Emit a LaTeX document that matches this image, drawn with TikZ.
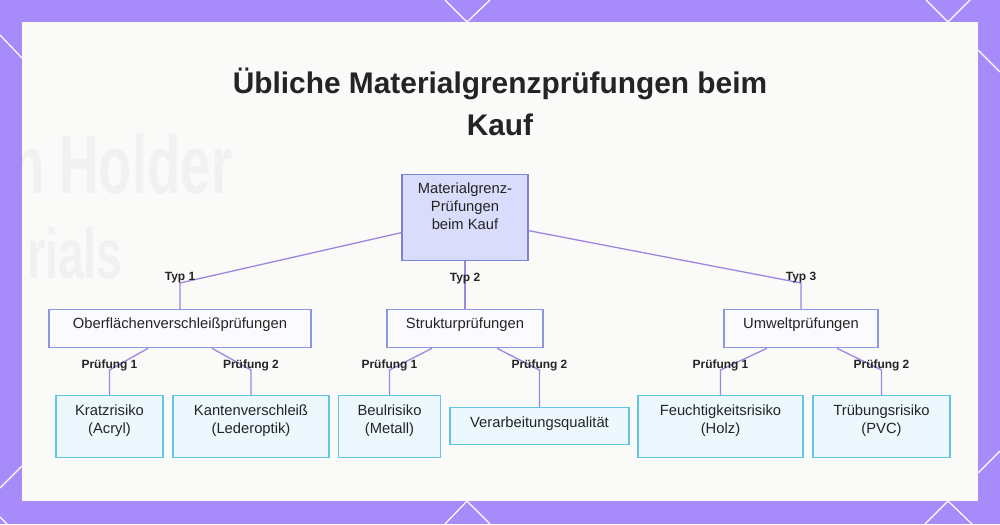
\documentclass[tikz,border=0pt]{standalone}
\usepackage{fontspec}
\setmainfont{Liberation Sans}
\usetikzlibrary{positioning}
\definecolor{frame}{RGB}{167,139,250}
\definecolor{panel}{RGB}{250,250,249}
\definecolor{ghost}{RGB}{241,241,241}
\definecolor{rootfill}{RGB}{217,220,250}
\definecolor{rootline}{RGB}{122,132,214}
\definecolor{catline}{RGB}{140,150,226}
\definecolor{catfill}{RGB}{251,251,255}
\definecolor{leafline}{RGB}{98,198,226}
\definecolor{leaffill}{RGB}{236,248,253}
\definecolor{link}{RGB}{160,132,226}
\definecolor{ink}{RGB}{36,36,36}
\newdimen\pxu \pxu=0.02cm
\tikzset{
  box/.style={draw, line width=1.3\pxu, inner xsep=2\pxu, inner ysep=0pt, align=center,
    anchor=north, text=ink, font=\fontsize{8.4}{10.2}\selectfont},
  rootbox/.style={box, draw=rootline, fill=rootfill, text height=55\pxu, text depth=31\pxu},
  catbox/.style={box, draw=catline, fill=catfill, text height=19\pxu, text depth=19\pxu},
  leafbox/.style={box, draw=leafline, fill=leaffill, text height=38\pxu, text depth=24\pxu},
  flatleaf/.style={box, draw=leafline, fill=leaffill, text height=20\pxu, text depth=17\pxu},
  conn/.style={draw=link, line width=1.3\pxu},
  tag/.style={font=\bfseries\fontsize{6.8}{8}\selectfont, text=ink, inner sep=0pt, yshift=5\pxu},
  deco/.style={draw=white, line width=1.2\pxu}
}
\begin{document}
\begin{tikzpicture}[x=0.02cm, y=-0.02cm]
  \useasboundingbox (0,0) rectangle (1000,524);
  % frame and panel
  \fill[frame] (0,0) rectangle (1000,524);
  \fill[panel] (22,22) rectangle (978,501);
  \draw[deco] (445,0) -- (467,22) -- (490,0);
  \draw[deco] (926,0) -- (948,22) -- (970,0);
  \draw[deco] (445,524) -- (467,501) -- (490,524);
  \draw[deco] (925,524) -- (948,501) -- (972,524);
  \draw[deco] (0,35) -- (22,58);
  \draw[deco] (0,488) -- (22,466);
  \draw[deco] (0,517) -- (7,524);
  \draw[deco] (978,50) -- (1000,72);
  \draw[deco] (978,473) -- (1000,451);

  % faded photo text
  \begin{scope}
    \clip (22,22) rectangle (978,501);
    \node[anchor=base west, inner sep=0pt, xscale=0.66, text=ghost,
      font=\bfseries\fontsize{47}{47}\selectfont] (holder) at (11,193) {n Holder};
    \node[anchor=base west, inner sep=0pt, xscale=0.66, text=ghost,
      font=\bfseries\fontsize{40}{40}\selectfont] (rials) at (27,278) {rials};
  \end{scope}

  \node[font=\bfseries\fontsize{17}{23.8}\selectfont, align=center, text=ink, anchor=base]
    (title) at (500,135) {Übliche Materialgrenzprüfungen beim\\Kauf};

  % tree
  \node[rootbox, minimum width=126\pxu] (root) at (465,174) {Materialgrenz-\\Prüfungen\\beim Kauf};

  \node[catbox, minimum width=262\pxu] (ober) at (180,309) {Oberflächenverschleißprüfungen};
  \node[catbox, minimum width=156\pxu] (struk) at (465,309) {Strukturprüfungen};
  \node[catbox, minimum width=154\pxu] (umwelt) at (801,309) {Umweltprüfungen};

  \node[leafbox, minimum width=107\pxu] (kratz) at (109.5,395) {Kratzrisiko\\(Acryl)};
  \node[leafbox, minimum width=156\pxu] (kanten) at (251,395) {Kantenverschleiß\\(Lederoptik)};
  \node[leafbox, minimum width=102\pxu] (beul) at (389.5,395) {Beulrisiko\\(Metall)};
  \node[flatleaf, minimum width=179\pxu] (verarb) at (539.5,407) {Verarbeitungsqualität};
  \node[leafbox, minimum width=165\pxu] (feucht) at (720.5,395) {Feuchtigkeitsrisiko\\(Holz)};
  \node[leafbox, minimum width=137\pxu] (trueb) at (881.5,395) {Trübungsrisiko\\(PVC)};

  \draw[conn] ([yshift=-15\pxu]root.west) -- ([yshift=26\pxu]ober.north) node[tag] (typ1) {Typ 1} -- (ober.north);
  \draw[conn] (root.south) -- (struk.north) node[tag, pos=0.37, yshift=-5\pxu] (typ2) {Typ 2};
  \draw[conn] ([yshift=-13\pxu]root.east) -- ([yshift=26\pxu]umwelt.north) node[tag] (typ3) {Typ 3} -- (umwelt.north);

  \draw[conn] ([xshift=-32\pxu]ober.south) -- ([yshift=25\pxu]kratz.north) node[tag] (ob1) {Prüfung 1} -- (kratz.north);
  \draw[conn] ([xshift=32\pxu]ober.south) -- ([yshift=25\pxu]kanten.north) node[tag] (ob2) {Prüfung 2} -- (kanten.north);
  \draw[conn] ([xshift=-33\pxu]struk.south) -- ([yshift=25\pxu]beul.north) node[tag] (st1) {Prüfung 1} -- (beul.north);
  \draw[conn] ([xshift=32\pxu]struk.south) -- ([yshift=37\pxu]verarb.north) node[tag] (st2) {Prüfung 2} -- (verarb.north);
  \draw[conn] ([xshift=-34\pxu]umwelt.south) -- ([yshift=25\pxu]feucht.north) node[tag] (uw1) {Prüfung 1} -- (feucht.north);
  \draw[conn] ([xshift=36\pxu]umwelt.south) -- ([yshift=25\pxu]trueb.north) node[tag] (uw2) {Prüfung 2} -- (trueb.north);
\end{tikzpicture}
\end{document}
